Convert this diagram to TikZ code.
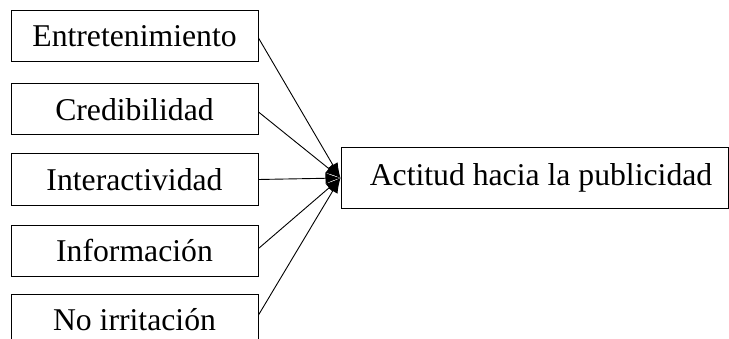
\documentclass[tikz,border=0pt]{standalone}
\usepackage{fontspec}
\setmainfont{Liberation Serif}
\usetikzlibrary{arrows.meta}
\begin{document}
\begin{tikzpicture}[x=1pt,y=1pt,
  factor/.style={draw,line width=1pt,minimum width=247pt,minimum height=51pt,inner sep=0pt,
    font=\fontsize{31.7}{38}\selectfont},
  link/.style={line width=0.9pt,-{Latex[length=15pt,width=11pt]}}]
\useasboundingbox (0,0) rectangle (729,338);
\clip (0,0) rectangle (729,338);
\node[factor] (b1) at (134.5,301.5) {Entretenimiento};
\node[factor] (b2) at (134.5,228.5) {Credibilidad};
\node[factor] (b3) at (134.5,158.5) {Interactividad};
\node[factor] (b4) at (134.5,87.5) {Información};
\node[factor] (b5) at (134.5,18.5) {No irritación};
\node[draw,line width=1pt,minimum width=387pt,minimum height=60pt,inner sep=0pt,
  font=\fontsize{31.7}{38}\selectfont] (t) at (534.5,160) {\hspace*{13pt}Actitud hacia la publicidad};
\draw[link] ([yshift=-1.5pt]b1.east) -- (t.west);
\draw[link] ([yshift=-2.5pt]b2.east) -- (t.west);
\draw[link] (b3.east) -- (t.west);
\draw[link] ([yshift=2pt]b4.east) -- (t.west);
\draw[link] ([yshift=4.5pt]b5.east) -- (t.west);
\end{tikzpicture}
\end{document}
